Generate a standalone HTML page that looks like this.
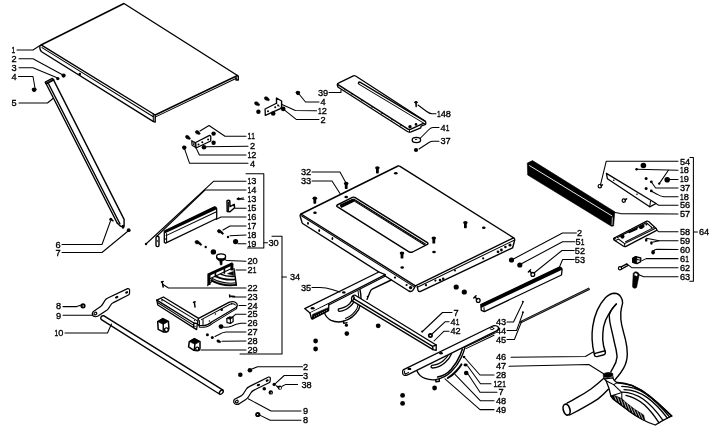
<!DOCTYPE html>
<html><head><meta charset="utf-8"><title>Exploded view</title>
<style>
html,body{margin:0;padding:0;background:#fff;}
body{width:720px;height:441px;overflow:hidden;font-family:"Liberation Sans",sans-serif;}
svg{display:block;filter:grayscale(1);will-change:transform;}
.l{fill:none;stroke:#000;stroke-width:1.4;stroke-linecap:round;stroke-linejoin:round;}
.t{fill:none;stroke:#000;stroke-width:1.05;stroke-linecap:round;stroke-linejoin:round;}
.h{fill:none;stroke:#000;stroke-width:1.5;stroke-linecap:round;stroke-linejoin:round;}
.w{fill:#fff;stroke:#000;stroke-width:1.3;stroke-linecap:round;stroke-linejoin:round;}
.k{fill:#000;stroke:#000;stroke-width:.6;stroke-linejoin:round;}
.d{fill:#000;stroke:none;}
text{font-family:"Liberation Sans",sans-serif;font-size:9.8px;fill:#000;stroke:#000;stroke-width:.35;}
</style></head><body>
<svg width="720" height="441" viewBox="0 0 720 441">
<rect width="720" height="441" fill="#fff"/>
<!-- 10_panel.svg -->
<g id="panel">
<!-- top face -->
<path class="l" d="M41,45 L124,3.5 L237.5,75.5 L155.2,115"/>
<!-- front-left edge -->
<path class="l" d="M124,3.5 M41,45 Q39.5,45.8 39.8,48 Q40,50.6 42,52 L153.5,121.6 L155.2,122 L155.2,115 L41.5,45.2"/>
<path class="t" d="M42,47.6 L153.3,116.8"/>
<path class="t" d="M153.3,114.2 L153.3,121.4"/>
<!-- right-front edge -->
<path class="t" d="M155.6,116.9 L236.4,78.2"/>
<path class="l" d="M237.5,75.5 L238.3,76.5 L238.3,80 L236,80 L236,77"/>
<circle class="d" cx="79.8" cy="74.1" r="1.3"/>
</g>
<g id="leg">
<path class="l" d="M45.6,82.8 L117.2,223"/>
<path class="l" d="M53.4,79.6 L124.1,219.4 L124.1,226"/>
<path class="l" d="M48.5,83.8 L119.9,223.8"/>
<path class="l" d="M45.2,82.2 L52.4,78.4 L53.8,79.9 L46.6,84 Z"/>
<path class="t" d="M46.4,83 L52.8,79.6"/>
<path class="l" d="M117.2,223 L120.6,226.2 L122,226.4"/>
<ellipse class="d" cx="123" cy="226.8" rx="1.5" ry="2"/>
<!-- dots -->
<circle class="d" cx="63.6" cy="75.6" r="2.1"/>
<circle class="d" cx="57.8" cy="78.6" r="1.7"/>
<circle class="d" cx="110.8" cy="219.2" r="1.5"/><path class="h" d="M111.4,219.6 L113,220.8"/>
<circle class="d" cx="128.7" cy="230.2" r="1.9"/>
<path class="d" d="M31.6,89.2 Q32,87.4 34.2,87.4 Q36.8,87.6 36.8,89.6 Q36.2,92 34,92.2 Q31.8,91.8 31.6,89.2Z"/>
</g>

<!-- 20_brackets.svg -->
<g id="bracket1">
<path class="w" d="M195.6,142.5 L209.6,135.4 Q211,135.6 210.8,137 L210.7,141 L196,148 Z"/>
<path class="k" d="M191.4,140.3 L195.6,142.5 L196,148 L191.8,145.4 Z"/>
<path class="t" d="M193,142.6 L194.6,143.6 L194.6,146 L193,145 Z" style="stroke:#fff;stroke-width:.5"/>
<circle class="d" cx="198.5" cy="144.4" r="1"/><circle class="d" cx="202.3" cy="142.3" r="1"/><circle class="d" cx="208.1" cy="139.4" r="1"/>
<path class="k" d="M195.4,131.4 Q196.2,130 198,130.8 Q199.2,131.6 199.6,132.6 L200.3,133.8 L199,134.6 L198,134 Q196.4,134.2 195.6,133 Z"/>
<path class="k" d="M185.6,136 Q186.6,134.8 188.2,135.8 Q189.4,136.6 189.8,137.6 L190.6,138.8 L189.4,139.6 L188.2,139 Q186.4,139 185.8,137.8 Z"/>
<circle class="d" cx="213.6" cy="133.6" r="2.2"/><circle class="d" cx="213.6" cy="142.7" r="2.2"/><circle class="d" cx="204" cy="147.3" r="2.3"/>
<path class="d" d="M182,147.2 Q182.2,145.4 184.2,145.6 Q186.6,145.8 186.6,147.6 Q186.2,149.8 184.4,150 Q182.2,149.6 182,147.2Z"/>
</g>
<g id="bracket2">
<path class="w" d="M265.1,109 L277,103 L281.3,107.4 L281,108.4 L265.3,115.4 Z"/>
<path d="M276.5,98 L281.6,101 L281.6,108 L276.5,103.3 Z" fill="#fff"/>
<path class="l" d="M276.5,103.4 L276.5,98 L281.6,101 L281.6,108.2"/>
<circle class="d" cx="268" cy="111.2" r="1"/><circle class="d" cx="275.2" cy="107.3" r="1"/><circle class="d" cx="278.2" cy="105.6" r="1"/>
<path class="k" d="M264.4,97.4 Q265.4,96.2 267,97 Q268.4,97.8 268.8,98.8 L269.6,100 L268.2,100.8 L267,100.2 Q265.4,100.4 264.6,99 Z"/>
<path class="k" d="M254.6,102.4 Q255.6,101.2 257.2,102 Q258.6,102.8 259,103.8 L259.8,105 L258.4,105.8 L257.2,105.2 Q255.4,105.4 254.8,104 Z"/>
<circle class="d" cx="258.4" cy="111.8" r="2.2"/><circle class="d" cx="273.2" cy="113.5" r="2.3"/><circle class="d" cx="283.3" cy="108.9" r="2.3"/>
<path class="d" d="M295.6,92.6 Q295.8,90.8 297.8,90.8 Q300.2,91 300.2,92.8 Q299.8,95 298,95.2 Q295.8,95 295.6,92.6Z"/>
</g>

<!-- 22_fence.svg -->
<g id="fence16">
<path class="w" d="M164.3,231.1 L214.5,206.8 Q216.7,207 216.7,209.5 L216.7,218.5 L165.5,243.2 L164.3,242.3 Z"/>
<path class="d" d="M164.3,231.1 L214.5,206.8 Q216.7,207 216.7,209.2 L164.6,233.6 Z"/>
<path class="t" d="M166,235.6 L216.5,211.8"/>
<path class="t" d="M166.6,233.6 L166.6,242.4 M164.4,238.6 L166.6,239.6"/>
<!-- 14 -->
<rect class="w" x="156" y="236.2" width="3" height="10.4" rx="1.3" style="stroke-width:1.4"/>
<circle class="d" cx="157.5" cy="241" r=".8"/>
<circle class="d" cx="146" cy="244" r="1.2"/>
<!-- 15 -->
<path class="w" d="M227,200.8 Q228.4,199.6 229.8,200.8 L230,206.6 L234.2,204.3 L234.6,207.8 L230,211.8 L227.2,211.4 Z" style="stroke-width:1.5"/>
<path class="t" d="M228.6,202 L228.6,210.6"/>
<path class="t" d="M237,198.9 L243.4,197.9 M237,198.9 L238.8,197.8 M237,198.9 L239,199.7"/>
<!-- 17 screw -->
<path class="k" d="M217.4,230.4 Q218.4,229 220,229.8 L223,232.6 L223.6,233.8 L222.6,234.4 L220.4,232.8 Q218.4,233.2 217.6,232 Z"/>
<circle class="d" cx="228" cy="237" r="1.2"/>
<circle class="d" cx="235.6" cy="241.6" r="2.6"/>
<!-- screw, dots -->
<path class="k" d="M195,241.4 Q196,240 197.8,240.6 L201,243.4 L201.8,244.8 L200.8,245.4 L198.4,243.8 Q196.2,244.2 195.2,243 Z"/>
<circle class="d" cx="205.7" cy="247" r="1.2"/>
<circle class="d" cx="213.4" cy="251.9" r="2.7"/>
</g>
<g id="knob20">
<path class="k" d="M216.6,256.6 L216.6,258.6 Q217.4,260.8 221,260.9 Q224.8,260.8 225.6,258.8 L225.6,256.8 Z"/>
<ellipse class="w" cx="221.1" cy="256.4" rx="4.5" ry="2.6"/>
<path class="k" d="M219.6,260.4 L222.2,260.4 L222,264.8 L220.4,265 Z"/>
</g>

<!-- 24_miter.svg -->
<g id="miter21">
<!-- base quarter disc -->
<path d="M211.6,278.8 L234,268.6 L236.4,285.2 Q223,287.4 211.6,281.4 Z" fill="#fff" stroke="none"/>
<path d="M211.2,279.4 Q223,286 236.4,284" fill="none" stroke="#000" stroke-width="3.6"/>
<path d="M212.6,279.6 Q223.6,285.4 236,283.6" fill="none" stroke="#fff" stroke-width=".6"/>
<path d="M216,276.4 Q224.6,280.6 235.6,279.4" fill="none" stroke="#000" stroke-width="1.9"/>
<path d="M220.4,274.2 Q227,277 235,276.4" fill="none" stroke="#000" stroke-width="1.3"/>
<path class="l" d="M234,268.6 L236.4,285.4"/>
<path class="k" d="M227.6,273.6 L233.4,271.4 L233.6,275.6 Z"/>
<!-- back plate frame -->
<path d="M207.8,275 L232.8,263.6" fill="none" stroke="#000" stroke-width="2.9"/>
<path d="M208.9,274.6 L208.9,285" fill="none" stroke="#000" stroke-width="3.1"/>
<path d="M231.9,263.4 L231.9,270.4" fill="none" stroke="#000" stroke-width="3"/>
<path d="M215.4,271 L215.4,277.2 M224.4,267 L224.4,273.8" fill="none" stroke="#000" stroke-width="1.6"/>
<path class="t" d="M210.4,278.4 L231,268.8"/>
<path class="t" d="M207.6,285.6 L211.6,281.6"/>
</g>
<g id="pin22">
<path class="h" d="M162.2,281.8 L163.2,287"/>
<path class="l" d="M161.4,282 L163.2,281.4"/>
</g>
<g id="screw23">
<path class="h" d="M229.6,295 L229.8,297 M229.8,296 L234.6,296.4"/>
</g>
<g id="bar24">
<!-- long bar top face -->
<path class="w" d="M156.8,300.1 L163.4,297 L198.6,318.4 L197.4,323.6 L196.6,329.6 L157.8,305 Z"/>
<path class="l" d="M156.8,300.1 L193.8,323 L197.4,323.6 M193.8,323 L193.6,327.6"/>
<path class="t" d="M161.4,299 L196.6,320.4"/>
<path class="t" d="M158,302.8 L193.7,325.4"/>
<circle class="d" cx="162" cy="300.8" r=".7"/><circle class="d" cx="194.5" cy="320.6" r=".7"/><circle class="d" cx="195" cy="326.4" r=".7"/>
<!-- plate -->
<path class="w" d="M198.6,318.4 L229.4,302.2 Q234.4,300.8 236.6,303.4 Q238.4,306 235.6,307.8 L212,321.8 Q208,325.4 203.6,325.6 L199,325.4 L197.4,323.6 Z"/>
<path class="t" d="M201.4,319.6 L230,304.2 Q233.6,303.2 235.4,305"/>
<path class="t" d="M236.8,306.4 L236.6,308.6 L212.6,323.4 Q208,327.2 203.6,327.2 L199.4,327.2 L199,325.4"/>
<path class="t" d="M199.4,320.6 L199.4,325 M203,319.6 L203,325.4"/>
<circle class="d" cx="221.7" cy="309.8" r="1.3"/><circle class="d" cx="215.4" cy="314" r=".8"/><circle class="d" cx="231.6" cy="303.8" r=".8"/><circle class="d" cx="209.4" cy="321" r=".7"/>
<!-- pin on bar -->
<path class="h" d="M194.3,302 L195,307"/><path class="l" d="M193.5,302.4 L195.2,301.8"/>
</g>
<g id="cubes">
<!-- left cube -->
<path class="w" style="stroke-width:1.5" d="M162.8,318.6 L168.4,321.4 L168.9,328.2 Q168.6,331.6 166,332 L163.2,331.9 L158.2,329.4 L157.7,321.6 Z"/>
<path class="k" d="M162.8,318.6 L168.4,321.4 L163.3,324.4 L157.7,321.6 Z"/>
<path class="l" d="M163.3,324.4 L163.2,331.6"/>
<circle class="w" cx="166.4" cy="329.8" r="1.9" style="stroke-width:1.4"/>
<!-- cube 29 -->
<path class="w" style="stroke-width:1.5" d="M194.4,338.6 L200,341.6 L200,348.4 Q199.6,350.8 197.4,350.8 L193.9,350.3 L188.6,346.8 L189.3,341.6 Z"/>
<path class="k" d="M194.4,338.6 L200,341.6 L194.9,344.3 L189.3,341.6 Z"/>
<path class="l" d="M194.9,344.3 L194.2,350"/>
<circle class="w" cx="197.2" cy="348.8" r="1.6" style="stroke-width:1.3"/>
<!-- cube 25 -->
<path class="w" d="M226.8,318.6 L229.4,317 L233,317.4 L233.2,321.6 L230.4,323.4 L227,322.6 Z" style="stroke-width:1.2"/>
<path class="k" d="M226.8,318.6 L229.4,317 L233,317.4 L230.4,319.2 Z"/>
<path class="t" d="M230.4,319.2 L230.4,323.2"/>
</g>
<g id="dots2x">
<circle class="d" cx="221" cy="326.6" r="2.4"/>
<circle class="d" cx="207.4" cy="334.7" r="1.5"/><circle class="d" cx="212.3" cy="337.6" r="1.5"/>
<path class="k" d="M216.8,340.4 Q217.8,339.4 219.2,340.2 L220.8,341.6 L220.4,342.6 L218.8,342.6 Q217,342.6 216.8,340.4Z"/>
</g>

<!-- 26_arms.svg -->
<g id="arm9L">
<path class="w" style="stroke-width:1.2" d="M93.4,311.4 L100.6,306.6 Q102,305.4 103,303.6 L105,300.4 Q106,298.8 107.8,298 L127.6,288.6 Q129.4,288.4 129.6,290 L129.5,293.4 Q129.4,294.4 128.4,295 L113.4,302.6 Q111.6,303.6 110.6,305.2 L108.4,308.6 Q107.4,310 106,310.8 L98,316 Q95,317.6 93,315.8 Q91.4,313.4 93.4,311.4 Z"/>
<ellipse class="l" cx="95.4" cy="313.6" rx="1.5" ry="1.2" transform="rotate(-35 95.4 313.6)" style="stroke-width:1.2"/>
<ellipse class="d" cx="116.7" cy="297.2" rx="1.8" ry="1.1" transform="rotate(-26 116.7 297.2)"/>
<ellipse class="d" cx="126.6" cy="292.4" rx="1.6" ry="1.1" transform="rotate(-26 126.6 292.4)"/>
<circle class="d" cx="83" cy="305.8" r="2.6"/><circle cx="83.2" cy="306" r=".7" fill="#fff"/>
</g>
<g id="rod10">
<path class="l" d="M223,390.2 L104,315.8 Q101.6,315.2 100.8,317.4 Q100.4,319.2 101.8,319.9 L219.4,394"/>
<ellipse class="l" cx="221.3" cy="392.2" rx="2.4" ry="1.5" transform="rotate(-50 221.3 392.2)"/>
</g>
<g id="arm9R">
<path class="w" style="stroke-width:1.2" d="M234.6,399.2 L241.6,395.6 Q243,394.6 244,392.8 L246.4,389 Q247.4,387.4 249.2,386.6 L268.6,377 Q270.2,376.8 270.4,378.4 L270,381.6 Q269.8,382.4 269,382.8 L253.6,390.4 Q252,391.2 251,392.8 L248.2,397.2 Q247.2,398.6 245.8,399.4 L239.6,403.6 Q236.6,405.2 234.6,403.6 Q232.8,401.4 234.6,399.2 Z"/>
<ellipse class="l" cx="236.8" cy="401.6" rx="1.5" ry="1.2" transform="rotate(-35 236.8 401.6)" style="stroke-width:1.2"/>
<ellipse class="d" cx="258.4" cy="385" rx="1.8" ry="1.1" transform="rotate(-26 258.4 385)"/>
<ellipse class="d" cx="267.2" cy="380.6" rx="1.6" ry="1.1" transform="rotate(-26 267.2 380.6)"/>
<circle class="d" cx="249.9" cy="370.3" r="2.3"/><circle class="d" cx="240.3" cy="374.7" r="2.3"/>
<circle class="d" cx="274.2" cy="384.4" r="1.7"/><circle class="d" cx="264.3" cy="388.7" r="1.8"/>
<circle class="d" cx="270.8" cy="392.4" r="2.2"/><circle cx="271.2" cy="392.8" r=".6" fill="#fff"/>
<circle class="d" cx="279.8" cy="387.6" r="2.2"/><circle cx="280.2" cy="388" r=".9" fill="#fff"/>
<path class="h" d="M276.6,386 L278,387"/>
<circle class="d" cx="257.8" cy="414.5" r="2.6"/><circle cx="257.6" cy="414.6" r=".7" fill="#fff"/>
<circle class="d" cx="315.6" cy="341" r="2.4"/><circle class="d" cx="315.6" cy="349" r="2.4"/>
</g>

<!-- 30_table.svg -->
<defs>
<g id="vs"><ellipse class="d" cx="0" cy="0" rx="2.3" ry="1.6"/><rect class="d" x="-1.4" y="0" width="2.8" height="5.6" rx=".7"/></g>
<ellipse id="ho" class="d" cx="0" cy="0" rx="1.8" ry="1.25"/>
</defs>
<g id="table33">
<!-- top face -->
<path class="l" d="M301,214 L398,166 Q398.8,165.6 399.6,166.2 L513.6,237.8 Q514.9,239 514.7,240.2 L512.6,247.8 L420.6,291.4 Q418.6,292 418,290.2 L417.2,286.6"/>
<path class="l" d="M513.6,237.8 L415.4,285.8"/>
<path class="t" d="M417.4,287.2 L514.2,240.2"/>
<!-- front-left edge -->
<path class="l" d="M301,214 Q299.8,214.8 300.2,216.4 L302,222.4 Q302.4,223.4 303.4,224 L408.8,291 Q411.4,292.2 412.8,290.4 Q414.2,288.4 415.4,285.8 L301,214"/>
<path class="t" d="M301.4,215.8 L413.8,286.6"/>
<!-- holes along edges -->
<g class="d">
<ellipse cx="308" cy="223.2" rx=".9" ry="1.5"/><ellipse cx="319.2" cy="230.4" rx=".9" ry="1.5"/><ellipse cx="332.4" cy="238.6" rx=".9" ry="1.5"/>
<circle cx="395" cy="277.6" r="1.1"/><circle cx="406.6" cy="285" r="1.1"/><circle cx="410.6" cy="287.6" r="1.7"/>
<circle cx="426" cy="285.2" r="1.1"/><circle cx="435.4" cy="280.6" r="1.1"/><circle cx="440" cy="280" r="1.3"/><circle cx="443.2" cy="278.8" r="1.3"/>
<circle cx="455" cy="270.6" r="1.0"/><circle cx="483.2" cy="258.4" r="1.1"/><circle cx="498" cy="251.8" r="1.4"/><circle cx="501.4" cy="250" r="1.4"/><circle cx="505.4" cy="247" r="1.3"/><circle cx="510" cy="245" r="1.6"/>
</g>
<!-- slot -->
<path class="l" d="M337.2,205 L352.4,197.4 Q353.8,196.8 355.2,197.6 L427.4,242.6 Q428.6,243.6 427.4,244.4 L412.6,252 Q410.4,252.8 408.6,251.6 L337.2,206.6 Q336,205.8 337.2,205 Z"/>
<path d="M340.2,206.2 L353.6,199.8 L425.4,244.8" fill="none" stroke="#000" stroke-width="2.5" stroke-linejoin="round"/>
<path d="M340.6,205.9 L353.4,199.7 M355,200.9 L425.2,244.7" fill="none" stroke="#fff" stroke-width=".5" stroke-dasharray=".7 1.3"/>

<path d="M340.6,206.4 L353.4,200.2" fill="none" stroke="#000" stroke-width="3.4"/>
<!-- screws & holes -->
<use href="#vs" x="314.8" y="198.2"/><use href="#vs" x="346.2" y="183.4"/><use href="#vs" x="377.4" y="167.8"/>
<use href="#vs" x="433.8" y="238"/><use href="#vs" x="402" y="253"/><use href="#vs" x="465.4" y="222.6"/>
<use href="#ho" x="315" y="212.8"/><use href="#ho" x="346.2" y="197"/><use href="#ho" x="395.8" y="173.2"/>
<use href="#ho" x="434" y="252"/><use href="#ho" x="402.2" y="267.6"/><use href="#ho" x="483.8" y="227.8"/>
</g>

<!-- 32_board39.svg -->
<g id="board39">
<path class="w" d="M338.4,83.2 L353.4,75.8 Q354.6,75.4 355.6,76 L425,121 Q426,121.8 425.8,122.8 L425.6,124.4 L421,126.2 L420.8,127.8 L411,131.9 Q409,132.5 407.4,131.5 L338.6,87.5 Q337.6,86.9 337.5,85.9 L337.3,84.6 Q337.4,83.6 338.4,83.2 Z"/>
<path class="l" d="M337.6,84.4 L407.6,128.8 Q409.2,129.8 411,129.2 L425.4,122.4"/>
<path class="t" d="M409.4,129.8 L409.4,132"/>
<path d="M359.4,83 L424.4,122" fill="none" stroke="#000" stroke-width="3.3" stroke-linecap="round"/>
<path d="M359.8,83.4 L424.6,122.4" fill="none" stroke="#fff" stroke-width="1.2" stroke-linecap="round"/>
<g class="d"><circle cx="410" cy="126.8" r="1.7"/><circle cx="416" cy="124.4" r="1.3"/>
<circle cx="345" cy="89.7" r=".75"/><circle cx="352" cy="94.1" r=".75"/><circle cx="362" cy="100.5" r=".75"/><circle cx="372" cy="106.9" r=".75"/><circle cx="382" cy="113.3" r=".75"/><circle cx="392" cy="119.7" r=".75"/><circle cx="401" cy="125.5" r=".75"/></g>
</g>
<g id="hw148">
<ellipse class="d" cx="416" cy="102.2" rx="1.7" ry="1.3"/><path class="h" d="M416,102.4 L416.2,106.6"/>
<ellipse class="w" cx="416.4" cy="140" rx="4.2" ry="2.6"/><path class="t" d="M415.4,139.4 L416.8,139.2"/>
<circle class="d" cx="416" cy="150" r="2.1"/>
</g>

<!-- 40_trunnion.svg -->
<g id="trun35">
<!-- semicircle plate behind -->
<path class="l" d="M324.4,312.6 Q326,317.6 331,320.4 Q337,323 343.6,321.2"/>
<path class="l" d="M343.6,321.2 Q353,318.6 358.6,309.6 Q362.6,301 360,289.6"/>
<path class="t" d="M345.4,318.4 Q353,315.6 357,308.4 Q360,301 358,291"/>
<path class="l" d="M343.4,321.4 L343.8,323.4 L347,322.6"/>
<!-- curved slot -->
<path class="w" d="M338.8,308.8 Q345,308.2 349.6,303.8 Q352.6,300.4 353.2,296.4 L355,297.6 Q354.4,302.6 350.6,306 Q345.6,310.8 339.2,311.4 Q337.4,310.4 338.8,308.8 Z"/>
<!-- plate edge from table -->
<path class="l" d="M391.2,280 L372.6,288.8 Q370.6,289.8 370,292 L367,299.4"/>
<circle class="d" cx="367.4" cy="296.4" r=".7"/>
<!-- bar top flange -->
<path class="w" d="M304.7,308.6 L378.8,272 L385.4,274.6 L310,313 Z"/>
<path class="t" d="M310.6,314.2 L385.6,276"/>
<!-- vertical flange -->
<path class="w" d="M310,313 L311.4,318.4 Q312,319.4 313.2,318.8 L328.6,310.6 L328.8,304"/>
<path class="k" d="M312.6,314.4 L328.7,307.4 L328.4,310.6 L313,318.6 Q312,319 311.8,318 Z"/>
<path d="M314,316.6 L327.6,310" stroke="#fff" stroke-width=".5" stroke-dasharray="1.2 1" fill="none"/>
<ellipse class="d" cx="312.6" cy="308.3" rx="2" ry="1.3"/>
<ellipse class="d" cx="343.8" cy="292.4" rx="1.8" ry="1.2"/>
</g>
<g id="bar42">
<path class="w" d="M355.2,295.2 L436.2,345 L436.2,350.4 L433,349.6 L351.8,300.6 Q350.8,298 352.4,296.2 Q353.6,295 355.2,295.2 Z"/>
<path class="l" d="M353.6,298.6 L432.6,346.4 L436.2,345 M432.6,346.4 L433,349.6"/>
<path class="l" d="M352.4,296.4 Q354.6,296.4 354.2,298.8 Q353.4,300.6 351.8,300.4"/>
<circle class="d" cx="422.2" cy="331.6" r="1.1"/>
<circle class="d" cx="430.4" cy="335.6" r="2.5"/><ellipse cx="430.4" cy="335.6" rx=".9" ry=".7" fill="#fff"/>
</g>
<g id="trunLow">
<!-- semicircle plate -->
<path class="l" d="M417,371 Q419.6,376.6 425,378.4 Q430.6,380.4 436,379.6"/>
<path class="l" d="M436,379.6 Q445,378 451.4,371.6 Q457.6,365.4 461,358 Q463.6,352.6 464.8,347.8"/>
<path class="l" d="M437.6,377 Q445.6,375.4 451,369.4 Q457,362.8 460,355.4 L462.4,349" style="stroke-width:1.5"/>
<path d="M447.8,378 Q453,374.8 456.4,371 Q459.6,367.4 461.4,364.4" fill="none" stroke="#000" stroke-width="2" stroke-linecap="round"/>
<path class="l" d="M435.6,379.8 L436,381.8 L439.4,381.2 L439.2,379.2"/>
<!-- curved slot -->
<path class="w" d="M431.8,365.4 Q438,365 443,361 Q447.6,357.2 449.6,352.2 L451.6,353.4 Q449.6,358.8 444.6,363 Q439,367.6 432.2,368 Q430.2,367 431.8,365.4 Z"/>
<!-- strip under right -->
<path class="t" d="M464.6,347.4 L495.4,332.8 M466,348.6 L494,335.2"/>
<!-- bar -->
<path class="w" d="M403.6,369.6 L492.8,326 Q496.4,325 498.4,327.2 Q499.4,329.4 496,331.2 L407.6,374.8 Q404.6,376.2 403.2,374.6 Q402.4,373.4 402.6,371.4 Q402.6,370.2 403.6,369.6 Z"/>
<path class="t" d="M404.6,371 Q404.2,373 405.2,374.2 L408.6,372.4"/>
<ellipse class="d" cx="409.4" cy="368.9" rx="2" ry="1.2"/>
<ellipse class="d" cx="441" cy="353.3" rx="1.9" ry="1.3"/>
<ellipse class="w" cx="492" cy="328.6" rx="1.8" ry="1.1" style="stroke-width:.9"/>
<!-- dots -->
<circle class="d" cx="464" cy="357" r="1.3"/>
<ellipse class="d" cx="465.6" cy="365" rx="2.1" ry="1.4"/>
<circle class="d" cx="466.2" cy="373" r="2.3"/>
<circle class="d" cx="434.6" cy="388" r="2.4"/>
<circle class="d" cx="402.6" cy="395.4" r="2.4"/><circle class="d" cx="402.6" cy="403.4" r="2.4"/>
<circle class="d" cx="378.2" cy="325.8" r="2.4"/>
<circle class="d" cx="346.4" cy="325.2" r="1.6"/><circle class="d" cx="346.8" cy="333.6" r="2.3"/>
</g>

<!-- 50_right.svg -->
<g id="bar57">
<path class="k" d="M527.3,163.1 L532.5,160.6 L614.8,211.8 L613.6,226 L611.4,226.2 L527.7,175 Z"/>
<path d="M529.2,165.4 L612.2,216" fill="none" stroke="#fff" stroke-width=".9"/>
<path d="M612.4,217.4 L612,225" fill="none" stroke="#fff" stroke-width=".7"/>
</g>
<g id="strip56">
<path class="w" d="M606.4,173.4 L656.1,203.5 L649.7,206.8 L607.4,178.7 Z"/>
<path class="t" d="M650.5,201.2 L649.7,206.8"/>
<circle class="d" cx="613.8" cy="180.2" r=".8"/><circle class="d" cx="637" cy="194.2" r=".8"/>
</g>
<g id="hw54">
<circle class="l" cx="599.8" cy="186.2" r="1.7" style="stroke-width:1.2"/><path class="h" d="M601,185.6 L602.4,184.8"/>
<circle class="l" cx="623.8" cy="200.6" r="1.7" style="stroke-width:1.2"/><path class="h" d="M625,199.8 L626.6,198.8"/>
<circle class="d" cx="643.4" cy="165.5" r="2.8"/>
<circle class="d" cx="636.6" cy="169.2" r="1.3"/>
<circle class="d" cx="659.2" cy="183.6" r="1.2"/>
<circle class="d" cx="667.2" cy="179.8" r="2.8"/>
<circle class="d" cx="646.1" cy="178.6" r="1.5"/><circle class="d" cx="651.3" cy="181.8" r="1.4"/>
<circle class="d" cx="646.1" cy="188.5" r="1.5"/><circle class="d" cx="651.3" cy="190.9" r="1.4"/>
</g>
<g id="plate58">
<path class="w" d="M614.2,238 L646.8,221.2 Q647.8,220.8 648.6,221.6 L656.4,228.8 Q657.2,229.8 656.2,230.6 L626,246.4 Q624.4,247 623.2,246 L614,240 Q613.2,239 614.2,238 Z"/>
<path class="t" d="M615.6,240.6 L618.4,239 L624.6,243.6 L624.8,246.4"/>
<path class="t" d="M624.6,243.6 L655.6,228.2 M625.6,241.8 L653.6,227.6"/>
<path class="t" d="M617,237.8 L646.6,222.8 L651.4,227.2"/>
<circle class="d" cx="622.4" cy="236.6" r="2.1"/>
<path d="M629.4,232 L636.6,228.8" stroke="#000" stroke-width="2.2" fill="none" stroke-linecap="round"/>
<ellipse class="d" cx="641.8" cy="226.8" rx="3" ry="1.9" transform="rotate(-25 641.8 226.8)"/>
<circle class="d" cx="646.4" cy="224.4" r="1"/>
<circle class="d" cx="614.6" cy="238.6" r="1.2"/>
<circle class="d" cx="651.6" cy="227.6" r=".8"/>
</g>
<g id="hw59">
<ellipse class="d" cx="646.2" cy="240" rx="1.3" ry="1.8"/>
<ellipse class="d" cx="651.4" cy="243" rx="1.3" ry="1.8"/>
<ellipse class="d" cx="653.1" cy="252.2" rx="1.8" ry="2.2"/>
<!-- 61 block -->
<path class="w" d="M632.6,258.4 L635.6,256.6 L640.8,258 L640.8,261.6 L637,263.6 L632.8,262.4 Z" style="stroke-width:1.3"/>
<path class="k" d="M632.6,258.4 L635.6,256.6 L637,257 L636.6,263.4 L632.8,262.4 Z"/>
<path class="t" d="M637,259.6 L640.6,260.2"/>
<!-- 62 bolt -->
<circle class="l" cx="620" cy="268.2" r="1.6" style="stroke-width:1.2"/>
<path class="l" d="M621.2,266.8 L626.8,263.8 L628,265.4 L621.8,269"/>
<!-- 63 handle -->
<path class="k" d="M633.2,273.4 Q634,271.6 636.2,271.8 Q639,272.4 639.2,274.6 L636.6,287.4 Q635.4,288.6 633.6,288 Q632.2,287.2 632.6,285.6 Z"/>
<path d="M634.6,273.4 Q636.4,273 637.6,274.4 L637,276.4 Q635.6,275 634.4,275.6Z" fill="#fff"/>
</g>

<!-- 52_bar53.svg -->
<g id="bar53">
<path class="w" d="M480.8,304.6 L559.4,267.1 Q562,267.4 562.1,269.6 L561.5,275 L484.4,311.6 L481.3,310.4 Z"/>
<path class="d" d="M480.8,304.6 L559.4,267.1 Q562,267.4 562.1,269.8 L481,307.9 Z"/>

<path class="t" d="M484,307.6 L484.2,311.4"/>
</g>
<g id="rod45">
<path d="M521,322 L589.5,288.6" stroke="#000" stroke-width="2.5" fill="none"/><path d="M522,321.5 L589,288.85" stroke="#999" stroke-width=".6" fill="none"/>
<circle class="d" cx="521" cy="322" r="1.1"/>
<circle class="d" cx="522.9" cy="301.8" r="1"/><circle class="d" cx="522.9" cy="312.2" r="1"/>
</g>
<g id="hw52">
<circle class="d" cx="511.5" cy="260" r="2.6"/><circle class="d" cx="519.8" cy="265" r="2.6"/>
<circle class="l" cx="532.8" cy="274.4" r="1.9" style="stroke-width:1.3"/><path class="h" d="M531.6,273 L529.6,271 M528.4,272 L530.6,269.8"/>
<circle class="d" cx="456.2" cy="287" r="2.6"/><circle class="d" cx="464.3" cy="292" r="2.6"/>
<circle class="l" cx="478.2" cy="300.4" r="1.9" style="stroke-width:1.3"/><path class="h" d="M477,299 L475,297 M473.8,298 L476,295.8"/>
</g>

<!-- 60_hose.svg -->
<g id="hose46">
<!-- outer edge: from open end up over the top and down the right side -->
<path class="l" d="M594.5,354.9 Q592.4,347 592.1,339.4 Q591.8,333 592.7,326.7 Q594,317.6 597.2,310.4 Q600.6,302.8 605.4,297.7 Q609.8,293.4 614.5,293.2 Q618.8,293.4 620.8,296.8 Q622.8,299.8 622.6,303.1 Q621.4,307.6 620.8,312.2 Q620.4,318.6 621.7,324.9 Q623.4,332 625.4,339.4 Q627.2,346.6 627.3,354 Q627.2,362 623.5,368.4 Q620.6,373.4 616.7,377.8 L613.8,381.4"/>
<!-- inner edge of left tube -->
<path class="l" d="M605.4,352.2 Q603,345.6 602.7,339.4 Q602.6,333 603.6,326.7 Q605.2,319.6 608.6,314.4 Q611.8,308.6 616.3,304.1"/>
<!-- left edge of right tube -->
<path class="l" d="M616.3,304.1 Q610.8,309.6 609.2,315 Q609.4,321 610.8,326.7 Q612.8,335 614.5,343 Q616.6,350.4 617.1,356.6 Q616.6,362.6 612.9,368.1 L610.9,371.6"/>
<!-- open end -->
<path class="l" d="M594.5,354.9 Q594.6,356.8 597,356.6 L604,354.8 Q605.8,354 605.4,352.2 M594.3,353.6 L605,350.8"/>
<!-- connector ring -->
<path class="k" d="M603.2,374.4 Q604,372.8 608,372.4 Q612,372.2 612.8,373.6 L612.9,375.4 Q611.6,377 608.2,377.4 Q604.4,377.6 603.4,376.4 Z"/>
<path class="t" d="M603.6,377 L604.4,379 M612.9,376 L613,378"/>
<!-- lower-left hose -->
<path class="l" d="M603.8,378.2 Q598,383.6 591.3,388.7 Q584.6,393.4 577.7,397.2 Q572.6,400.4 567,403.2"/>
<path class="l" d="M608.3,389.3 Q603.6,394.4 598.1,398.9 Q592,403 585.6,406.3 Q579,410.2 569.6,415"/>
<ellipse cx="566.6" cy="409.6" rx="3.3" ry="5.6" transform="rotate(-16 566.6 409.6)" fill="#fff" stroke="#000" stroke-width="1.7"/>
</g>
<g id="guard">
<path class="w" d="M604.4,378.8 L612.8,377.8 L613.8,379.7 Q615,381.8 617.4,382.6 Q625,383 632.1,385.5 Q641.6,389.6 649.5,396.1 Q657.6,402.6 664.9,409.6 L671.7,416 L663,420.4 L655.3,425 Q648.4,423 641.8,419.3 Q634.8,415.2 628.3,410.6 L612.9,399 L610.9,396.1 Q609.4,388 606.1,380.7 Z"/>
<!-- neck -->
<path class="t" d="M606.1,380.7 Q610,382.6 613.6,384.6 L617.4,382.6 M613.6,384.6 L621.8,392.4 L621.8,401.4"/>
<path class="t" d="M610.9,396.1 L621.8,392.4"/>
<!-- hatched band along bottom -->
<path class="k" d="M610.9,396.1 L612.9,399 L628.3,410.6 Q634.8,415.2 641.8,419.3 L645,420.6 L643.6,415 Q634,409.4 626,402.6 L621.8,398.6 L614,395.2 Z"/>
<path d="M614.6,396.4 L616.4,400.6 M617.6,397.4 L619.6,403 M620.6,398.6 L623,405.6 M623.8,401 L626.4,408.2 M627,403.6 L629.8,410.8 M630.2,406.2 L633.2,413.2 M633.6,408.8 L636.6,415.4 M637,411.2 L640,417.6 M640.2,413.2 L643,419.4" stroke="#fff" stroke-width=".7" fill="none"/>
<!-- ribs -->
<g fill="none" stroke="#000" stroke-width="1.35" stroke-linecap="round">
<path d="M622.5,392.2 Q633,392.6 643,399 Q653,406 663,420.4"/>
<path d="M624,389.6 Q636,389.8 647,397.4 Q657.6,405 667.4,418.2"/>
<path d="M626,395.4 Q636,397.6 644.6,405 Q652,412 659,422.8"/>
<path d="M621.8,386.4 Q634,386.4 645.6,393.6 Q657,401.4 669.6,417"/>
<path d="M617.4,382.6 Q625,383 632.1,385.5 Q641.6,389.6 649.5,396.1 Q657.6,402.6 664.9,409.6 L671.7,416" stroke-width="1.7"/>
</g>
</g>

<!-- 80_leaders.svg -->
<g id="leaders" class="t">
<!-- left top -->
<polyline points="17,50 33,50 40,45.5"/>
<polyline points="19,58.8 33,58.8 62,74.5"/>
<polyline points="19,67.7 33,67.7 56.5,77.5"/>
<polyline points="18.5,76.5 33,76.5 35,88"/>
<polyline points="19,103 47.5,103 53,98.5"/>
<polyline points="62,244.5 102,244.5 110.5,221"/>
<polyline points="62,252.5 102,252.5 127.5,231.5"/>
<polyline points="63,306.6 76.8,306.6 80.6,305.2"/>
<polyline points="63,315.3 92.4,315.3"/>
<polyline points="65,333 107.5,333 111.5,324"/>
<!-- bracket 11,2,12,4 -->
<polyline points="246,136.3 225,136.3 209,125.5 200,131"/>
<polyline points="248,146.3 205,146.8"/>
<polyline points="246,155 199.4,155 196.4,148.6"/>
<polyline points="248,163.3 189.6,163.3 184.8,149.6"/>
<!-- 39,4,12,2 -->
<polyline points="329,92.5 341,92.5 341,90"/>
<polyline points="319,102 305.5,102 299,94"/>
<polyline points="316.5,110.8 295.4,110.4 282,104.4"/>
<polyline points="319,119.4 296.2,119.4 284.6,110.2"/>
<!-- 148,41,37 -->
<path d="M436,113.8 L432,113.8 Q429,113.5 426,111 L418,105"/>
<path d="M439,127.5 L433,127.5 Q431,127.5 429,129.5 L420,138.5"/>
<path d="M439,141.2 L433,141.2 Q431,141.2 429,142.5 L419,149"/>
<!-- 32,33 -->
<polyline points="312,172 340,172 346,183"/>
<polyline points="312,181 332,181 340,193.5"/>
<!-- 13..19 -->
<polyline points="246,181.3 213.5,181.3 146.5,243.5"/>
<polyline points="246,190 205,190 156.5,236.5"/>
<polyline points="244,199.2 238,199.2"/>
<polyline points="246,208.2 235,208.2"/>
<polyline points="246,217 221,217 216,219.5"/>
<polyline points="246,226 230,226 223,230"/>
<polyline points="246,235 230,235.8"/>
<polyline points="246,243.8 238,243.8"/>
<!-- bracket 30 -->
<polyline points="246,173.8 263.8,173.8 263.8,248 247.5,248"/>
<polyline points="263.8,242.8 267.5,242.8"/>
<!-- bracket 34 -->
<polyline points="272,236.2 282,236.2 282,354 240,354"/>
<polyline points="282,277 286.4,277"/>
<!-- 20..29 -->
<polyline points="246,261.2 227,260.6 224,259"/>
<polyline points="246,270 236,270"/>
<polyline points="246,288 168.5,288 163,284.5"/>
<polyline points="246,297 232,297"/>
<polyline points="246,305.5 239,305.5"/>
<polyline points="246,314.2 236,314.2 232.5,317"/>
<path d="M246,323.2 L241,323.2 Q236,324 232,326 Q227,328 223,327"/>
<path d="M246,332 L226,332 Q222,332.5 219,334.5 L215,336.5"/>
<polyline points="246,341 222,341.3"/>
<polyline points="246,350 201,350"/>
<!-- 35 -->
<path d="M312,287.5 L320,287.5 Q326,287.5 332,289.5 L340,292"/>
<!-- 2,3,38,9,8 -->
<polyline points="302.6,366.7 257.6,366.7 252,369"/>
<polyline points="302.6,375.5 284.2,375.5 275.6,383.4"/>
<polyline points="297.6,384.4 285.8,384.4 282.2,386.2"/>
<polyline points="301,411 271,411 248.2,398.8"/>
<polyline points="301,420.2 270.2,420.2 260.2,415.4"/>
<!-- 7,41,42 -->
<polyline points="452,312.5 442.5,312.5 423,331"/>
<polyline points="449,321.8 445,321.8 431.5,334.5"/>
<polyline points="449,331.2 444,331.2 434,341"/>
<!-- 43,44,45 -->
<polyline points="507,322 513.5,322 522.9,302.6"/>
<polyline points="507,330.4 516.6,330.4 522.9,313"/>
<polyline points="507,339.5 514.4,339.5 521,323"/>
<!-- 46,47 -->
<polyline points="511,357.2 585.4,356.5 593.6,351.8"/>
<polyline points="509,366.3 588.8,364.5 604,374"/>
<!-- 28,121,7,48,49 -->
<polyline points="494,375 480,375 465,358"/>
<polyline points="491,383.7 480.5,383.7 467.6,366"/>
<polyline points="497,392.3 480,392.3 468,374"/>
<polyline points="494,400.8 480.5,400.8 455,374.4"/>
<polyline points="494,409.6 480,409.6 445,378.8"/>
<!-- 2,51,52,53 -->
<polyline points="576.4,233 562.5,233 512.5,259.5"/>
<polyline points="575,241.8 562.6,241.8 520.5,264.2"/>
<polyline points="574.2,250.5 562,250.5 534,273"/>
<polyline points="574.2,259.5 562.6,259.5 559.6,266.8"/>
<!-- right column -->
<polyline points="678,161.3 606.2,161.3 600.6,184.4"/>
<polyline points="678,170.2 636.6,169.2"/>
<polyline points="668.4,170.2 659.4,183.4"/>
<polyline points="678,179.5 670,179.6"/>
<polyline points="678,188 655.6,188 651.6,182.2"/>
<path d="M678,196.7 L664,196.7 Q660,196.4 657,194.2 L651.6,191.2"/>
<polyline points="678,205.3 658.6,205.3 656,203.6"/>
<polyline points="678,214 620.6,213.6 612.6,212"/>
<polyline points="678,231.7 658.6,231.7 656.8,230.2"/>
<polyline points="678,240.8 659,240.8 646.4,238.3"/>
<polyline points="659,240.8 652.4,242.2"/>
<path d="M678,249.4 L657,249.2 Q654.6,249.4 653.6,251"/>
<polyline points="678,258.6 646.2,258.6 642,260.6"/>
<polyline points="678,267.7 631.8,267.7 627.4,264.4"/>
<polyline points="678,276.8 643.6,276.8 639,274.8"/>
<!-- bracket 64 -->
<polyline points="690,157.5 693.4,157.5 693.4,281.3 689.8,281.3"/>
<polyline points="693.4,232 697.4,232"/>
</g>

<!-- 90_labels.svg -->
<g id="labels">
<text transform="translate(11.5 53.0) scale(.94 1)"><tspan textLength="3.94" lengthAdjust="spacingAndGlyphs">1</tspan></text>
<text transform="translate(11.5 61.8) scale(.94 1)">2</text>
<text transform="translate(11.5 70.8) scale(.94 1)">3</text>
<text transform="translate(11.5 79.5) scale(.94 1)">4</text>
<text transform="translate(11.5 105.8) scale(.94 1)">5</text>
<text transform="translate(55.5 247.6) scale(.94 1)">6</text>
<text transform="translate(55.5 255.6) scale(.94 1)">7</text>
<text transform="translate(56.0 309.2) scale(.94 1)">8</text>
<text transform="translate(56.0 318.6) scale(.94 1)">9</text>
<text transform="translate(54.5 336.1) scale(.94 1)"><tspan textLength="3.94" lengthAdjust="spacingAndGlyphs">1</tspan>0</text>
<text transform="translate(247.5 139.2) scale(.94 1)"><tspan textLength="3.94" lengthAdjust="spacingAndGlyphs">1</tspan><tspan textLength="3.94" lengthAdjust="spacingAndGlyphs">1</tspan></text>
<text transform="translate(247.5 158.1) scale(.94 1)"><tspan textLength="3.94" lengthAdjust="spacingAndGlyphs">1</tspan>2</text>
<text transform="translate(247.5 184.2) scale(.94 1)"><tspan textLength="3.94" lengthAdjust="spacingAndGlyphs">1</tspan>3</text>
<text transform="translate(247.5 193.1) scale(.94 1)"><tspan textLength="3.94" lengthAdjust="spacingAndGlyphs">1</tspan>4</text>
<text transform="translate(247.5 202.2) scale(.94 1)"><tspan textLength="3.94" lengthAdjust="spacingAndGlyphs">1</tspan>3</text>
<text transform="translate(247.5 211.2) scale(.94 1)"><tspan textLength="3.94" lengthAdjust="spacingAndGlyphs">1</tspan>5</text>
<text transform="translate(247.5 220.1) scale(.94 1)"><tspan textLength="3.94" lengthAdjust="spacingAndGlyphs">1</tspan>6</text>
<text transform="translate(247.5 229.1) scale(.94 1)"><tspan textLength="3.94" lengthAdjust="spacingAndGlyphs">1</tspan>7</text>
<text transform="translate(247.5 238.1) scale(.94 1)"><tspan textLength="3.94" lengthAdjust="spacingAndGlyphs">1</tspan>8</text>
<text transform="translate(247.5 246.9) scale(.94 1)"><tspan textLength="3.94" lengthAdjust="spacingAndGlyphs">1</tspan>9</text>
<text transform="translate(247.5 264.2) scale(.94 1)">20</text>
<text transform="translate(247.5 273.1) scale(.94 1)">2<tspan textLength="3.94" lengthAdjust="spacingAndGlyphs">1</tspan></text>
<text transform="translate(247.5 291.1) scale(.94 1)">22</text>
<text transform="translate(247.5 300.1) scale(.94 1)">23</text>
<text transform="translate(247.5 308.6) scale(.94 1)">24</text>
<text transform="translate(247.5 317.2) scale(.94 1)">25</text>
<text transform="translate(247.5 326.2) scale(.94 1)">26</text>
<text transform="translate(247.5 335.1) scale(.94 1)">27</text>
<text transform="translate(247.5 344.1) scale(.94 1)">28</text>
<text transform="translate(247.5 353.1) scale(.94 1)">29</text>
<text transform="translate(250.0 149.2) scale(.94 1)">2</text>
<text transform="translate(250.0 166.6) scale(.94 1)">4</text>
<text transform="translate(268.5 245.9) scale(.94 1)">30</text>
<text transform="translate(290.0 280.1) scale(.94 1)">34</text>
<text transform="translate(301.0 290.6) scale(.94 1)">35</text>
<text transform="translate(301.0 175.1) scale(.94 1)">32</text>
<text transform="translate(301.0 184.1) scale(.94 1)">33</text>
<text transform="translate(318.0 95.5) scale(.94 1)">39</text>
<text transform="translate(318.0 114.0) scale(.94 1)"><tspan textLength="3.94" lengthAdjust="spacingAndGlyphs">1</tspan>2</text>
<text transform="translate(320.5 105.0) scale(.94 1)">4</text>
<text transform="translate(320.5 122.5) scale(.94 1)">2</text>
<text transform="translate(437.0 116.8) scale(.94 1)"><tspan textLength="3.94" lengthAdjust="spacingAndGlyphs">1</tspan>48</text>
<text transform="translate(440.5 130.6) scale(.94 1)">4<tspan textLength="3.94" lengthAdjust="spacingAndGlyphs">1</tspan></text>
<text transform="translate(440.5 144.2) scale(.94 1)">37</text>
<text transform="translate(680.0 164.5) scale(.94 1)">54</text>
<text transform="translate(680.0 173.2) scale(.94 1)"><tspan textLength="3.94" lengthAdjust="spacingAndGlyphs">1</tspan>8</text>
<text transform="translate(680.0 182.4) scale(.94 1)"><tspan textLength="3.94" lengthAdjust="spacingAndGlyphs">1</tspan>9</text>
<text transform="translate(680.0 191.0) scale(.94 1)">37</text>
<text transform="translate(680.0 199.8) scale(.94 1)"><tspan textLength="3.94" lengthAdjust="spacingAndGlyphs">1</tspan>8</text>
<text transform="translate(680.0 208.2) scale(.94 1)">56</text>
<text transform="translate(680.0 217.1) scale(.94 1)">57</text>
<text transform="translate(680.0 234.8) scale(.94 1)">58</text>
<text transform="translate(680.0 243.9) scale(.94 1)">59</text>
<text transform="translate(680.0 252.6) scale(.94 1)">60</text>
<text transform="translate(680.0 261.7) scale(.94 1)">6<tspan textLength="3.94" lengthAdjust="spacingAndGlyphs">1</tspan></text>
<text transform="translate(680.0 270.8) scale(.94 1)">62</text>
<text transform="translate(680.0 279.9) scale(.94 1)">63</text>
<text transform="translate(699.0 235.0) scale(.94 1)">64</text>
<text transform="translate(577.0 236.1) scale(.94 1)">2</text>
<text transform="translate(575.5 244.9) scale(.94 1)">5<tspan textLength="3.94" lengthAdjust="spacingAndGlyphs">1</tspan></text>
<text transform="translate(574.8 253.6) scale(.94 1)">52</text>
<text transform="translate(574.8 262.6) scale(.94 1)">53</text>
<text transform="translate(453.5 315.6) scale(.94 1)">7</text>
<text transform="translate(450.5 324.9) scale(.94 1)">4<tspan textLength="3.94" lengthAdjust="spacingAndGlyphs">1</tspan></text>
<text transform="translate(450.5 334.2) scale(.94 1)">42</text>
<text transform="translate(496.0 325.1) scale(.94 1)">43</text>
<text transform="translate(496.0 333.8) scale(.94 1)">44</text>
<text transform="translate(496.0 342.6) scale(.94 1)">45</text>
<text transform="translate(496.0 360.2) scale(.94 1)">46</text>
<text transform="translate(496.0 369.2) scale(.94 1)">47</text>
<text transform="translate(496.0 378.1) scale(.94 1)">28</text>
<text transform="translate(496.0 404.4) scale(.94 1)">48</text>
<text transform="translate(496.0 413.4) scale(.94 1)">49</text>
<text transform="translate(493.4 386.9) scale(.94 1)"><tspan textLength="3.94" lengthAdjust="spacingAndGlyphs">1</tspan>2<tspan textLength="3.94" lengthAdjust="spacingAndGlyphs">1</tspan></text>
<text transform="translate(498.4 395.2) scale(.94 1)">7</text>
<text transform="translate(303.0 369.9) scale(.94 1)">2</text>
<text transform="translate(303.0 378.6) scale(.94 1)">3</text>
<text transform="translate(303.0 413.6) scale(.94 1)">9</text>
<text transform="translate(303.0 423.1) scale(.94 1)">8</text>
<text transform="translate(301.5 387.6) scale(.94 1)">38</text>
</g>

</svg>
</body></html>
